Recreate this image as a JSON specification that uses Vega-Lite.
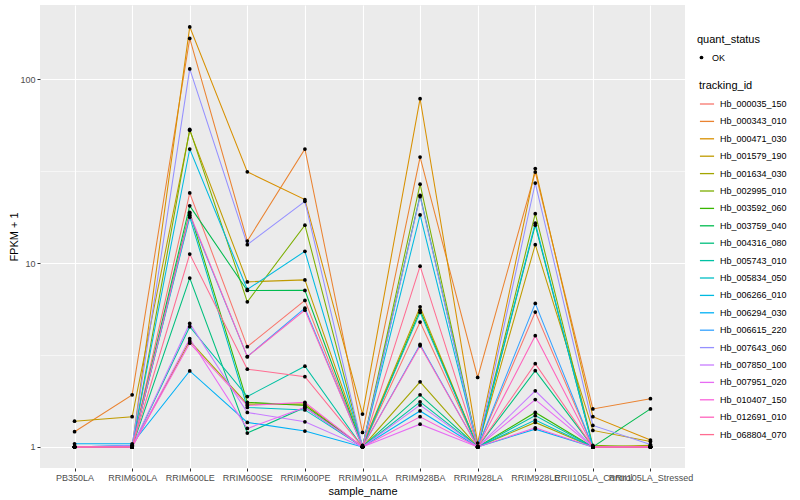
{
  "$schema": "https://vega.github.io/schema/vega-lite/v6.json",
  "autosize": {"type": "none"},
  "padding": {"left": 40, "top": 5, "right": 115, "bottom": 32},
  "width": 645,
  "height": 463,
  "background": "white",
  "config": {
    "font": "Liberation Sans",
    "view": {"fill": "#EBEBEB", "stroke": null},
    "axis": {
      "domain": false,
      "gridColor": "white",
      "tickColor": "#333333",
      "tickSize": 3,
      "labelColor": "#4D4D4D",
      "labelFontSize": 9,
      "labelFont": "Liberation Sans",
      "titleFont": "Liberation Sans",
      "titleFontSize": 11,
      "titleFontWeight": "normal",
      "titleColor": "black",
      "labelPadding": 2
    },
    "legend": {
      "titleFont": "Liberation Sans",
      "titleFontSize": 11,
      "titleFontWeight": "normal",
      "titleColor": "black",
      "labelFont": "Liberation Sans",
      "labelFontSize": 9,
      "labelColor": "black"
    }
  },
  "data": {"values": [
    {"tracking_id":"Hb_000035_150","sample_name":"PB350LA","fpkm":1.0},
    {"tracking_id":"Hb_000035_150","sample_name":"RRIM600LA","fpkm":1.01},
    {"tracking_id":"Hb_000035_150","sample_name":"RRIM600LE","fpkm":24.1},
    {"tracking_id":"Hb_000035_150","sample_name":"RRIM600SE","fpkm":3.51},
    {"tracking_id":"Hb_000035_150","sample_name":"RRIM600PE","fpkm":6.27},
    {"tracking_id":"Hb_000035_150","sample_name":"RRIM901LA","fpkm":1.0},
    {"tracking_id":"Hb_000035_150","sample_name":"RRIM928BA","fpkm":4.78},
    {"tracking_id":"Hb_000035_150","sample_name":"RRIM928LA","fpkm":1.0},
    {"tracking_id":"Hb_000035_150","sample_name":"RRIM928LE","fpkm":5.42},
    {"tracking_id":"Hb_000035_150","sample_name":"RRII105LA_Control","fpkm":1.0},
    {"tracking_id":"Hb_000035_150","sample_name":"RRII105LA_Stressed","fpkm":1.0},

    {"tracking_id":"Hb_000343_010","sample_name":"PB350LA","fpkm":1.21},
    {"tracking_id":"Hb_000343_010","sample_name":"RRIM600LA","fpkm":1.92},
    {"tracking_id":"Hb_000343_010","sample_name":"RRIM600LE","fpkm":167},
    {"tracking_id":"Hb_000343_010","sample_name":"RRIM600SE","fpkm":13.2},
    {"tracking_id":"Hb_000343_010","sample_name":"RRIM600PE","fpkm":41.8},
    {"tracking_id":"Hb_000343_010","sample_name":"RRIM901LA","fpkm":1.2},
    {"tracking_id":"Hb_000343_010","sample_name":"RRIM928BA","fpkm":37.8},
    {"tracking_id":"Hb_000343_010","sample_name":"RRIM928LA","fpkm":2.39},
    {"tracking_id":"Hb_000343_010","sample_name":"RRIM928LE","fpkm":31.3},
    {"tracking_id":"Hb_000343_010","sample_name":"RRII105LA_Control","fpkm":1.61},
    {"tracking_id":"Hb_000343_010","sample_name":"RRII105LA_Stressed","fpkm":1.83},

    {"tracking_id":"Hb_000471_030","sample_name":"PB350LA","fpkm":1.0},
    {"tracking_id":"Hb_000471_030","sample_name":"RRIM600LA","fpkm":1.0},
    {"tracking_id":"Hb_000471_030","sample_name":"RRIM600LE","fpkm":193},
    {"tracking_id":"Hb_000471_030","sample_name":"RRIM600SE","fpkm":31.4},
    {"tracking_id":"Hb_000471_030","sample_name":"RRIM600PE","fpkm":22.2},
    {"tracking_id":"Hb_000471_030","sample_name":"RRIM901LA","fpkm":1.51},
    {"tracking_id":"Hb_000471_030","sample_name":"RRIM928BA","fpkm":78.5},
    {"tracking_id":"Hb_000471_030","sample_name":"RRIM928LA","fpkm":1.05},
    {"tracking_id":"Hb_000471_030","sample_name":"RRIM928LE","fpkm":32.7},
    {"tracking_id":"Hb_000471_030","sample_name":"RRII105LA_Control","fpkm":1.46},
    {"tracking_id":"Hb_000471_030","sample_name":"RRII105LA_Stressed","fpkm":1.09},

    {"tracking_id":"Hb_001579_190","sample_name":"PB350LA","fpkm":1.38},
    {"tracking_id":"Hb_001579_190","sample_name":"RRIM600LA","fpkm":1.46},
    {"tracking_id":"Hb_001579_190","sample_name":"RRIM600LE","fpkm":52.8},
    {"tracking_id":"Hb_001579_190","sample_name":"RRIM600SE","fpkm":7.91},
    {"tracking_id":"Hb_001579_190","sample_name":"RRIM600PE","fpkm":8.11},
    {"tracking_id":"Hb_001579_190","sample_name":"RRIM901LA","fpkm":1.02},
    {"tracking_id":"Hb_001579_190","sample_name":"RRIM928BA","fpkm":5.79},
    {"tracking_id":"Hb_001579_190","sample_name":"RRIM928LA","fpkm":1.0},
    {"tracking_id":"Hb_001579_190","sample_name":"RRIM928LE","fpkm":12.6},
    {"tracking_id":"Hb_001579_190","sample_name":"RRII105LA_Control","fpkm":1.23},
    {"tracking_id":"Hb_001579_190","sample_name":"RRII105LA_Stressed","fpkm":1.07},

    {"tracking_id":"Hb_001634_030","sample_name":"PB350LA","fpkm":1.0},
    {"tracking_id":"Hb_001634_030","sample_name":"RRIM600LA","fpkm":1.0},
    {"tracking_id":"Hb_001634_030","sample_name":"RRIM600LE","fpkm":3.77},
    {"tracking_id":"Hb_001634_030","sample_name":"RRIM600SE","fpkm":1.71},
    {"tracking_id":"Hb_001634_030","sample_name":"RRIM600PE","fpkm":1.71},
    {"tracking_id":"Hb_001634_030","sample_name":"RRIM901LA","fpkm":1.0},
    {"tracking_id":"Hb_001634_030","sample_name":"RRIM928BA","fpkm":2.26},
    {"tracking_id":"Hb_001634_030","sample_name":"RRIM928LA","fpkm":1.0},
    {"tracking_id":"Hb_001634_030","sample_name":"RRIM928LE","fpkm":1.36},
    {"tracking_id":"Hb_001634_030","sample_name":"RRII105LA_Control","fpkm":1.0},
    {"tracking_id":"Hb_001634_030","sample_name":"RRII105LA_Stressed","fpkm":1.02},

    {"tracking_id":"Hb_002995_010","sample_name":"PB350LA","fpkm":1.0},
    {"tracking_id":"Hb_002995_010","sample_name":"RRIM600LA","fpkm":1.0},
    {"tracking_id":"Hb_002995_010","sample_name":"RRIM600LE","fpkm":53.5},
    {"tracking_id":"Hb_002995_010","sample_name":"RRIM600SE","fpkm":6.16},
    {"tracking_id":"Hb_002995_010","sample_name":"RRIM600PE","fpkm":16.1},
    {"tracking_id":"Hb_002995_010","sample_name":"RRIM901LA","fpkm":1.0},
    {"tracking_id":"Hb_002995_010","sample_name":"RRIM928BA","fpkm":26.9},
    {"tracking_id":"Hb_002995_010","sample_name":"RRIM928LA","fpkm":1.0},
    {"tracking_id":"Hb_002995_010","sample_name":"RRIM928LE","fpkm":18.6},
    {"tracking_id":"Hb_002995_010","sample_name":"RRII105LA_Control","fpkm":1.02},
    {"tracking_id":"Hb_002995_010","sample_name":"RRII105LA_Stressed","fpkm":1.0},

    {"tracking_id":"Hb_003592_060","sample_name":"PB350LA","fpkm":1.0},
    {"tracking_id":"Hb_003592_060","sample_name":"RRIM600LA","fpkm":1.0},
    {"tracking_id":"Hb_003592_060","sample_name":"RRIM600LE","fpkm":18.9},
    {"tracking_id":"Hb_003592_060","sample_name":"RRIM600SE","fpkm":1.75},
    {"tracking_id":"Hb_003592_060","sample_name":"RRIM600PE","fpkm":1.68},
    {"tracking_id":"Hb_003592_060","sample_name":"RRIM901LA","fpkm":1.0},
    {"tracking_id":"Hb_003592_060","sample_name":"RRIM928BA","fpkm":5.55},
    {"tracking_id":"Hb_003592_060","sample_name":"RRIM928LA","fpkm":1.0},
    {"tracking_id":"Hb_003592_060","sample_name":"RRIM928LE","fpkm":1.54},
    {"tracking_id":"Hb_003592_060","sample_name":"RRII105LA_Control","fpkm":1.0},
    {"tracking_id":"Hb_003592_060","sample_name":"RRII105LA_Stressed","fpkm":1.0},

    {"tracking_id":"Hb_003759_040","sample_name":"PB350LA","fpkm":1.0},
    {"tracking_id":"Hb_003759_040","sample_name":"RRIM600LA","fpkm":1.0},
    {"tracking_id":"Hb_003759_040","sample_name":"RRIM600LE","fpkm":20.5},
    {"tracking_id":"Hb_003759_040","sample_name":"RRIM600SE","fpkm":7.1},
    {"tracking_id":"Hb_003759_040","sample_name":"RRIM600PE","fpkm":7.11},
    {"tracking_id":"Hb_003759_040","sample_name":"RRIM901LA","fpkm":1.0},
    {"tracking_id":"Hb_003759_040","sample_name":"RRIM928BA","fpkm":23.4},
    {"tracking_id":"Hb_003759_040","sample_name":"RRIM928LA","fpkm":1.0},
    {"tracking_id":"Hb_003759_040","sample_name":"RRIM928LE","fpkm":16.1},
    {"tracking_id":"Hb_003759_040","sample_name":"RRII105LA_Control","fpkm":1.0},
    {"tracking_id":"Hb_003759_040","sample_name":"RRII105LA_Stressed","fpkm":1.61},

    {"tracking_id":"Hb_004316_080","sample_name":"PB350LA","fpkm":1.0},
    {"tracking_id":"Hb_004316_080","sample_name":"RRIM600LA","fpkm":1.0},
    {"tracking_id":"Hb_004316_080","sample_name":"RRIM600LE","fpkm":8.3},
    {"tracking_id":"Hb_004316_080","sample_name":"RRIM600SE","fpkm":1.19},
    {"tracking_id":"Hb_004316_080","sample_name":"RRIM600PE","fpkm":1.64},
    {"tracking_id":"Hb_004316_080","sample_name":"RRIM901LA","fpkm":1.0},
    {"tracking_id":"Hb_004316_080","sample_name":"RRIM928BA","fpkm":1.92},
    {"tracking_id":"Hb_004316_080","sample_name":"RRIM928LA","fpkm":1.0},
    {"tracking_id":"Hb_004316_080","sample_name":"RRIM928LE","fpkm":2.6},
    {"tracking_id":"Hb_004316_080","sample_name":"RRII105LA_Control","fpkm":1.0},
    {"tracking_id":"Hb_004316_080","sample_name":"RRII105LA_Stressed","fpkm":1.0},

    {"tracking_id":"Hb_005743_010","sample_name":"PB350LA","fpkm":1.0},
    {"tracking_id":"Hb_005743_010","sample_name":"RRIM600LA","fpkm":1.0},
    {"tracking_id":"Hb_005743_010","sample_name":"RRIM600LE","fpkm":4.51},
    {"tracking_id":"Hb_005743_010","sample_name":"RRIM600SE","fpkm":1.88},
    {"tracking_id":"Hb_005743_010","sample_name":"RRIM600PE","fpkm":2.75},
    {"tracking_id":"Hb_005743_010","sample_name":"RRIM901LA","fpkm":1.0},
    {"tracking_id":"Hb_005743_010","sample_name":"RRIM928BA","fpkm":1.76},
    {"tracking_id":"Hb_005743_010","sample_name":"RRIM928LA","fpkm":1.0},
    {"tracking_id":"Hb_005743_010","sample_name":"RRIM928LE","fpkm":1.48},
    {"tracking_id":"Hb_005743_010","sample_name":"RRII105LA_Control","fpkm":1.0},
    {"tracking_id":"Hb_005743_010","sample_name":"RRII105LA_Stressed","fpkm":1.0},

    {"tracking_id":"Hb_005834_050","sample_name":"PB350LA","fpkm":1.0},
    {"tracking_id":"Hb_005834_050","sample_name":"RRIM600LA","fpkm":1.0},
    {"tracking_id":"Hb_005834_050","sample_name":"RRIM600LE","fpkm":17.8},
    {"tracking_id":"Hb_005834_050","sample_name":"RRIM600SE","fpkm":1.64},
    {"tracking_id":"Hb_005834_050","sample_name":"RRIM600PE","fpkm":1.59},
    {"tracking_id":"Hb_005834_050","sample_name":"RRIM901LA","fpkm":1.0},
    {"tracking_id":"Hb_005834_050","sample_name":"RRIM928BA","fpkm":5.4},
    {"tracking_id":"Hb_005834_050","sample_name":"RRIM928LA","fpkm":1.0},
    {"tracking_id":"Hb_005834_050","sample_name":"RRIM928LE","fpkm":1.4},
    {"tracking_id":"Hb_005834_050","sample_name":"RRII105LA_Control","fpkm":1.0},
    {"tracking_id":"Hb_005834_050","sample_name":"RRII105LA_Stressed","fpkm":1.0},

    {"tracking_id":"Hb_006266_010","sample_name":"PB350LA","fpkm":1.0},
    {"tracking_id":"Hb_006266_010","sample_name":"RRIM600LA","fpkm":1.02},
    {"tracking_id":"Hb_006266_010","sample_name":"RRIM600LE","fpkm":41.8},
    {"tracking_id":"Hb_006266_010","sample_name":"RRIM600SE","fpkm":7.19},
    {"tracking_id":"Hb_006266_010","sample_name":"RRIM600PE","fpkm":11.6},
    {"tracking_id":"Hb_006266_010","sample_name":"RRIM901LA","fpkm":1.0},
    {"tracking_id":"Hb_006266_010","sample_name":"RRIM928BA","fpkm":18.3},
    {"tracking_id":"Hb_006266_010","sample_name":"RRIM928LA","fpkm":1.0},
    {"tracking_id":"Hb_006266_010","sample_name":"RRIM928LE","fpkm":16.5},
    {"tracking_id":"Hb_006266_010","sample_name":"RRII105LA_Control","fpkm":1.0},
    {"tracking_id":"Hb_006266_010","sample_name":"RRII105LA_Stressed","fpkm":1.0},

    {"tracking_id":"Hb_006294_030","sample_name":"PB350LA","fpkm":1.04},
    {"tracking_id":"Hb_006294_030","sample_name":"RRIM600LA","fpkm":1.04},
    {"tracking_id":"Hb_006294_030","sample_name":"RRIM600LE","fpkm":2.59},
    {"tracking_id":"Hb_006294_030","sample_name":"RRIM600SE","fpkm":1.36},
    {"tracking_id":"Hb_006294_030","sample_name":"RRIM600PE","fpkm":1.22},
    {"tracking_id":"Hb_006294_030","sample_name":"RRIM901LA","fpkm":1.0},
    {"tracking_id":"Hb_006294_030","sample_name":"RRIM928BA","fpkm":1.57},
    {"tracking_id":"Hb_006294_030","sample_name":"RRIM928LA","fpkm":1.0},
    {"tracking_id":"Hb_006294_030","sample_name":"RRIM928LE","fpkm":1.25},
    {"tracking_id":"Hb_006294_030","sample_name":"RRII105LA_Control","fpkm":1.0},
    {"tracking_id":"Hb_006294_030","sample_name":"RRII105LA_Stressed","fpkm":1.0},

    {"tracking_id":"Hb_006615_220","sample_name":"PB350LA","fpkm":1.0},
    {"tracking_id":"Hb_006615_220","sample_name":"RRIM600LA","fpkm":1.0},
    {"tracking_id":"Hb_006615_220","sample_name":"RRIM600LE","fpkm":18.2},
    {"tracking_id":"Hb_006615_220","sample_name":"RRIM600SE","fpkm":3.1},
    {"tracking_id":"Hb_006615_220","sample_name":"RRIM600PE","fpkm":5.69},
    {"tracking_id":"Hb_006615_220","sample_name":"RRIM901LA","fpkm":1.0},
    {"tracking_id":"Hb_006615_220","sample_name":"RRIM928BA","fpkm":3.61},
    {"tracking_id":"Hb_006615_220","sample_name":"RRIM928LA","fpkm":1.0},
    {"tracking_id":"Hb_006615_220","sample_name":"RRIM928LE","fpkm":6.04},
    {"tracking_id":"Hb_006615_220","sample_name":"RRII105LA_Control","fpkm":1.0},
    {"tracking_id":"Hb_006615_220","sample_name":"RRII105LA_Stressed","fpkm":1.0},

    {"tracking_id":"Hb_007643_060","sample_name":"PB350LA","fpkm":1.0},
    {"tracking_id":"Hb_007643_060","sample_name":"RRIM600LA","fpkm":1.02},
    {"tracking_id":"Hb_007643_060","sample_name":"RRIM600LE","fpkm":114},
    {"tracking_id":"Hb_007643_060","sample_name":"RRIM600SE","fpkm":12.6},
    {"tracking_id":"Hb_007643_060","sample_name":"RRIM600PE","fpkm":21.7},
    {"tracking_id":"Hb_007643_060","sample_name":"RRIM901LA","fpkm":1.0},
    {"tracking_id":"Hb_007643_060","sample_name":"RRIM928BA","fpkm":23.0},
    {"tracking_id":"Hb_007643_060","sample_name":"RRIM928LA","fpkm":1.0},
    {"tracking_id":"Hb_007643_060","sample_name":"RRIM928LE","fpkm":27.3},
    {"tracking_id":"Hb_007643_060","sample_name":"RRII105LA_Control","fpkm":1.31},
    {"tracking_id":"Hb_007643_060","sample_name":"RRII105LA_Stressed","fpkm":1.03},

    {"tracking_id":"Hb_007850_100","sample_name":"PB350LA","fpkm":1.0},
    {"tracking_id":"Hb_007850_100","sample_name":"RRIM600LA","fpkm":1.0},
    {"tracking_id":"Hb_007850_100","sample_name":"RRIM600LE","fpkm":4.7},
    {"tracking_id":"Hb_007850_100","sample_name":"RRIM600SE","fpkm":1.54},
    {"tracking_id":"Hb_007850_100","sample_name":"RRIM600PE","fpkm":1.37},
    {"tracking_id":"Hb_007850_100","sample_name":"RRIM901LA","fpkm":1.0},
    {"tracking_id":"Hb_007850_100","sample_name":"RRIM928BA","fpkm":1.69},
    {"tracking_id":"Hb_007850_100","sample_name":"RRIM928LA","fpkm":1.0},
    {"tracking_id":"Hb_007850_100","sample_name":"RRIM928LE","fpkm":2.02},
    {"tracking_id":"Hb_007850_100","sample_name":"RRII105LA_Control","fpkm":1.0},
    {"tracking_id":"Hb_007850_100","sample_name":"RRII105LA_Stressed","fpkm":1.0},

    {"tracking_id":"Hb_007951_020","sample_name":"PB350LA","fpkm":1.0},
    {"tracking_id":"Hb_007951_020","sample_name":"RRIM600LA","fpkm":1.0},
    {"tracking_id":"Hb_007951_020","sample_name":"RRIM600LE","fpkm":3.88},
    {"tracking_id":"Hb_007951_020","sample_name":"RRIM600SE","fpkm":1.26},
    {"tracking_id":"Hb_007951_020","sample_name":"RRIM600PE","fpkm":1.64},
    {"tracking_id":"Hb_007951_020","sample_name":"RRIM901LA","fpkm":1.0},
    {"tracking_id":"Hb_007951_020","sample_name":"RRIM928BA","fpkm":1.33},
    {"tracking_id":"Hb_007951_020","sample_name":"RRIM928LA","fpkm":1.0},
    {"tracking_id":"Hb_007951_020","sample_name":"RRIM928LE","fpkm":1.81},
    {"tracking_id":"Hb_007951_020","sample_name":"RRII105LA_Control","fpkm":1.0},
    {"tracking_id":"Hb_007951_020","sample_name":"RRII105LA_Stressed","fpkm":1.0},

    {"tracking_id":"Hb_010407_150","sample_name":"PB350LA","fpkm":1.0},
    {"tracking_id":"Hb_010407_150","sample_name":"RRIM600LA","fpkm":1.0},
    {"tracking_id":"Hb_010407_150","sample_name":"RRIM600LE","fpkm":3.67},
    {"tracking_id":"Hb_010407_150","sample_name":"RRIM600SE","fpkm":1.68},
    {"tracking_id":"Hb_010407_150","sample_name":"RRIM600PE","fpkm":1.75},
    {"tracking_id":"Hb_010407_150","sample_name":"RRIM901LA","fpkm":1.0},
    {"tracking_id":"Hb_010407_150","sample_name":"RRIM928BA","fpkm":1.46},
    {"tracking_id":"Hb_010407_150","sample_name":"RRIM928LA","fpkm":1.0},
    {"tracking_id":"Hb_010407_150","sample_name":"RRIM928LE","fpkm":1.27},
    {"tracking_id":"Hb_010407_150","sample_name":"RRII105LA_Control","fpkm":1.0},
    {"tracking_id":"Hb_010407_150","sample_name":"RRII105LA_Stressed","fpkm":1.0},

    {"tracking_id":"Hb_012691_010","sample_name":"PB350LA","fpkm":1.0},
    {"tracking_id":"Hb_012691_010","sample_name":"RRIM600LA","fpkm":1.0},
    {"tracking_id":"Hb_012691_010","sample_name":"RRIM600LE","fpkm":18.6},
    {"tracking_id":"Hb_012691_010","sample_name":"RRIM600SE","fpkm":3.1},
    {"tracking_id":"Hb_012691_010","sample_name":"RRIM600PE","fpkm":5.55},
    {"tracking_id":"Hb_012691_010","sample_name":"RRIM901LA","fpkm":1.0},
    {"tracking_id":"Hb_012691_010","sample_name":"RRIM928BA","fpkm":3.55},
    {"tracking_id":"Hb_012691_010","sample_name":"RRIM928LA","fpkm":1.0},
    {"tracking_id":"Hb_012691_010","sample_name":"RRIM928LE","fpkm":4.03},
    {"tracking_id":"Hb_012691_010","sample_name":"RRII105LA_Control","fpkm":1.0},
    {"tracking_id":"Hb_012691_010","sample_name":"RRII105LA_Stressed","fpkm":1.0},

    {"tracking_id":"Hb_068804_070","sample_name":"PB350LA","fpkm":1.0},
    {"tracking_id":"Hb_068804_070","sample_name":"RRIM600LA","fpkm":1.0},
    {"tracking_id":"Hb_068804_070","sample_name":"RRIM600LE","fpkm":11.2},
    {"tracking_id":"Hb_068804_070","sample_name":"RRIM600SE","fpkm":2.65},
    {"tracking_id":"Hb_068804_070","sample_name":"RRIM600PE","fpkm":2.41},
    {"tracking_id":"Hb_068804_070","sample_name":"RRIM901LA","fpkm":1.0},
    {"tracking_id":"Hb_068804_070","sample_name":"RRIM928BA","fpkm":9.63},
    {"tracking_id":"Hb_068804_070","sample_name":"RRIM928LA","fpkm":1.0},
    {"tracking_id":"Hb_068804_070","sample_name":"RRIM928LE","fpkm":2.84},
    {"tracking_id":"Hb_068804_070","sample_name":"RRII105LA_Control","fpkm":1.0},
    {"tracking_id":"Hb_068804_070","sample_name":"RRII105LA_Stressed","fpkm":1.0}
  ]},
  "encoding": {
    "x": {
      "field": "sample_name",
      "type": "nominal",
      "sort": ["PB350LA","RRIM600LA","RRIM600LE","RRIM600SE","RRIM600PE","RRIM901LA","RRIM928BA","RRIM928LA","RRIM928LE","RRII105LA_Control","RRII105LA_Stressed"],
      "scale": {"type": "point", "padding": 0.6},
      "axis": {"title": "sample_name", "labelAngle": 0, "labelOverlap": false, "labelBound": false, "grid": true, "gridWidth": 1.1, "titlePadding": 3}
    },
    "y": {
      "field": "fpkm",
      "type": "quantitative",
      "scale": {"type": "log", "domain": [0.768, 254], "nice": false, "zero": false},
      "axis": {
        "title": "FPKM + 1",
        "values": [1, 3.1623, 10, 31.623, 100],
        "labelExpr": "datum.value == 1 ? '1' : datum.value == 10 ? '10' : datum.value == 100 ? '100' : ''",
        "gridWidth": {"condition": {"test": "datum.value == 1 || datum.value == 10 || datum.value == 100", "value": 1.1}, "value": 0.55},
        "tickColor": {"condition": {"test": "datum.value == 1 || datum.value == 10 || datum.value == 100", "value": "#333333"}, "value": "transparent"},
        "titlePadding": 0
      }
    }
  },
  "layer": [
    {
      "mark": {"type": "line", "strokeWidth": 1.05},
      "encoding": {
        "color": {
          "field": "tracking_id",
          "type": "nominal",
          "scale": {
            "domain": ["Hb_000035_150","Hb_000343_010","Hb_000471_030","Hb_001579_190","Hb_001634_030","Hb_002995_010","Hb_003592_060","Hb_003759_040","Hb_004316_080","Hb_005743_010","Hb_005834_050","Hb_006266_010","Hb_006294_030","Hb_006615_220","Hb_007643_060","Hb_007850_100","Hb_007951_020","Hb_010407_150","Hb_012691_010","Hb_068804_070"],
            "range": ["#F8766D","#EA8331","#D89000","#C09B00","#A3A500","#7CAE00","#39B600","#00BB4E","#00BF7D","#00C1A3","#00BFC4","#00BAE0","#00B0F6","#35A2FF","#9590FF","#C77CFF","#E76BF3","#FA62DB","#FF62BC","#FF6C91"]
          },
          "legend": {
            "title": "tracking_id",
            "orient": "none",
            "legendX": 659,
            "legendY": 75,
            "symbolType": "stroke",
            "symbolStrokeWidth": 1.3,
            "symbolSize": 200,
            "symbolOpacity": 1,
            "rowPadding": 4.4,
            "labelOffset": 5,
            "titlePadding": 5
          }
        }
      }
    },
    {
      "mark": {"type": "point", "filled": true, "color": "black", "size": 14, "opacity": 1},
      "encoding": {
        "shape": {
          "datum": "OK",
          "type": "nominal",
          "scale": {"range": ["circle"]},
          "legend": {
            "title": "quant_status",
            "orient": "none",
            "legendX": 657,
            "legendY": 29,
            "symbolFillColor": "black",
            "symbolStrokeColor": "black",
            "symbolSize": 14,
            "labelOffset": 6,
            "titlePadding": 8
          }
        }
      }
    }
  ]
}
